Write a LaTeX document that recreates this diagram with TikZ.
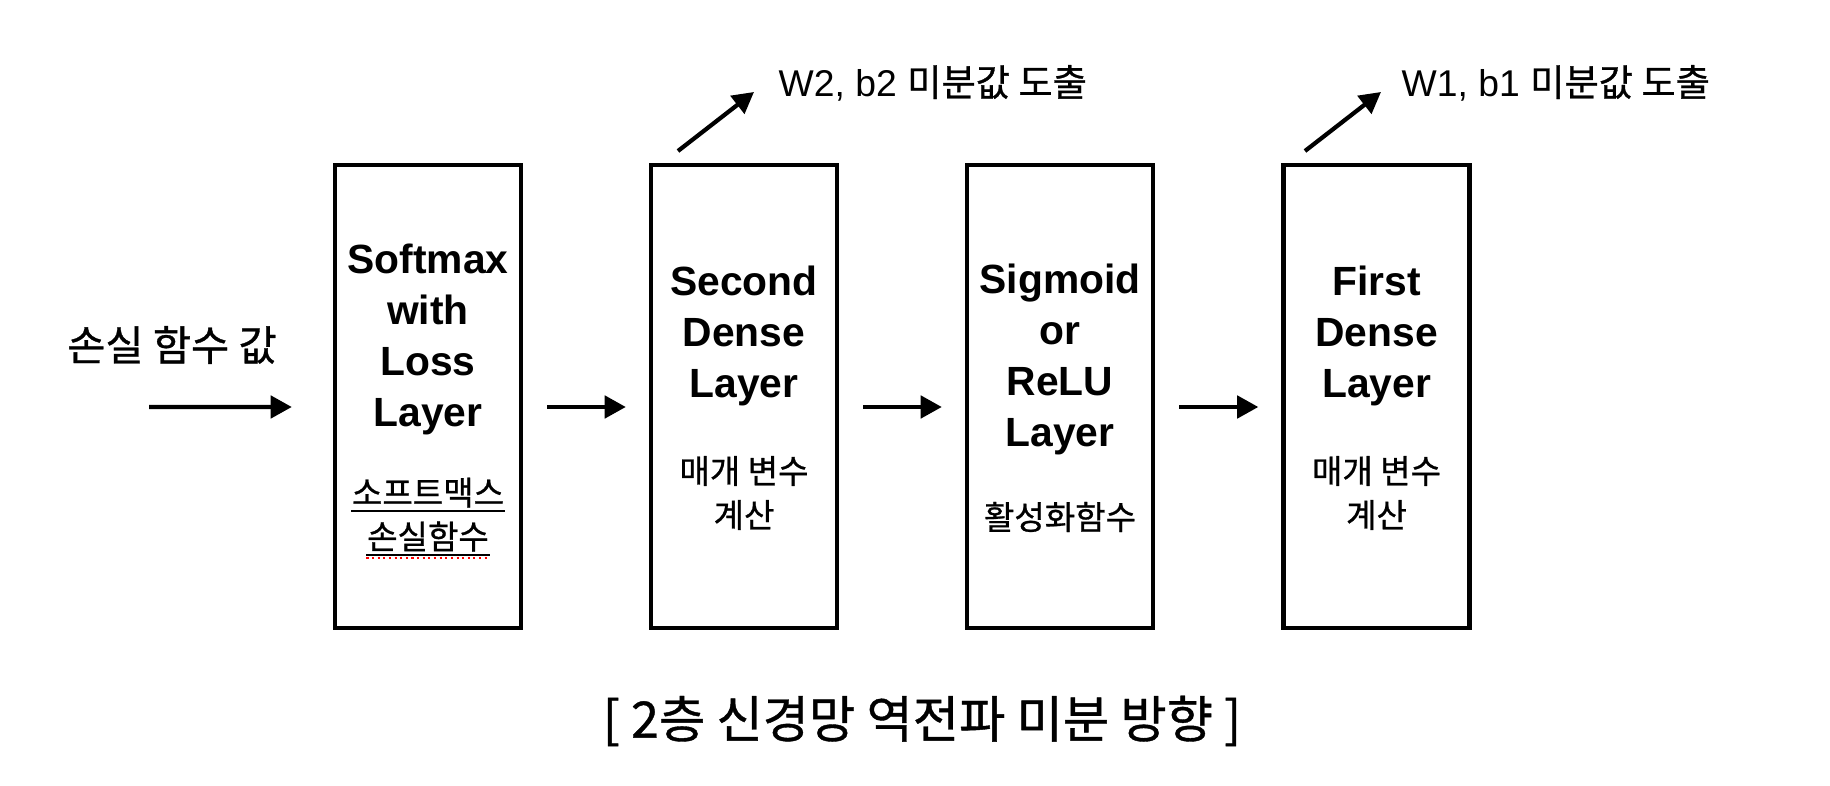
\documentclass[tikz,border=0pt]{standalone}
\usepackage{fontspec}
\setmainfont{Liberation Sans}
\newfontfamily\kr{Noto Sans CJK KR}[FakeBold=0.8]
\usetikzlibrary{arrows.meta}

\begin{document}
\begin{tikzpicture}[x=0.01cm, y=-0.01cm,
        layer/.style={draw, line width=1.2pt, inner sep=0pt,
            minimum width=1.86cm, minimum height=4.63cm},
        title/.style={align=center, font=\fontsize{11.6}{14.5}\selectfont\bfseries},
        note/.style={align=center, font=\fontsize{9.4}{12.5}\selectfont\kr},
        arr/.style={line width=1.2pt, -{Triangle[length=6pt, width=6.3pt]}}]
        \useasboundingbox (0, 0) rectangle (1830, 786);
        % the loss value coming in, with label
        \node[font=\fontsize{11.8}{14}\selectfont\kr] (loss) at (172, 345) {손실 함수 값};
        \coordinate (in) at (149, 407);
        % softmax with loss layer
        \node[layer] (softmax) at (428, 396.5) {};
        \node[title] (softmaxname) at (428, 339) {Softmax\\with\\Loss\\Layer};
        \node[note, anchor=base, inner sep=0pt] (softmaxnote) at (428, 505) {소프트맥스};
        \node[note, anchor=base, inner sep=0pt] (softmaxnote2) at (428, 549) {손실함수};
        \draw[line width=0.6pt] ([yshift=-1.6pt]softmaxnote.base west) -- ([yshift=-1.6pt]softmaxnote.base east);
        \draw[line width=0.6pt] ([yshift=-1.6pt]softmaxnote2.base west) -- ([yshift=-1.6pt]softmaxnote2.base east);
        \draw[red, densely dotted, line width=0.6pt]
            ([yshift=-2.6pt]softmaxnote2.base west) -- ([yshift=-2.6pt]softmaxnote2.base east);
        % second dense layer
        \node[layer] (second) at (744, 396.5) {};
        \node[title] (secondname) at (744, 336) {Second\\Dense\\Layer};
        \node[note] (secondnote) at (744, 493) {매개 변수\\계산};
        % activation layer
        \node[layer] (act) at (1060, 396.5) {};
        \node[title] (actname) at (1060, 359) {Sigmoid\\or\\ReLU\\Layer};
        \node[note] (actnote) at (1060, 517) {활성화함수};
        % first dense layer
        \node[layer] (first) at (1376.5, 396.5) {};
        \node[title] (firstname) at (1376.5, 336) {First\\Dense\\Layer};
        \node[note] (firstnote) at (1376.5, 493) {매개 변수\\계산};
        % arrows of the backward pass
        \draw[arr, shorten >=0.41cm] (in) -- ([yshift=-1.05mm]softmax.west);
        \draw[arr, shorten <=0.24cm, shorten >=0.23cm]
            ([yshift=-1.05mm]softmax.east) -- ([yshift=-1.05mm]second.west);
        \draw[arr, shorten <=0.24cm, shorten >=0.23cm]
            ([yshift=-1.05mm]second.east) -- ([yshift=-1.05mm]act.west);
        \draw[arr, shorten <=0.24cm, shorten >=0.23cm]
            ([yshift=-1.05mm]act.east) -- ([yshift=-1.05mm]first.west);
        % gradients of W2, b2, with label
        \coordinate (w2from) at (678, 151);
        \coordinate (w2to) at (754, 92);
        \draw[arr] (w2from) -- (w2to);
        \node[anchor=west, inner sep=0pt, font=\fontsize{10.6}{13}\selectfont] (w2) at (778, 83)
            {W2, b2 {\kr 미분값 도출}};
        % gradients of W1, b1, with label
        \coordinate (w1from) at (1305, 151);
        \coordinate (w1to) at (1381, 92);
        \draw[arr] (w1from) -- (w1to);
        \node[anchor=west, inner sep=0pt, font=\fontsize{10.6}{13}\selectfont] (w1) at (1401, 83)
            {W1, b1 {\kr 미분값 도출}};
        % caption
        \node[font=\fontsize{14.3}{16}\selectfont\kr] (caption) at (922, 721)
            {[ 2층 신경망 역전파 미분 방향 ]};
    \end{tikzpicture}
\end{document}
